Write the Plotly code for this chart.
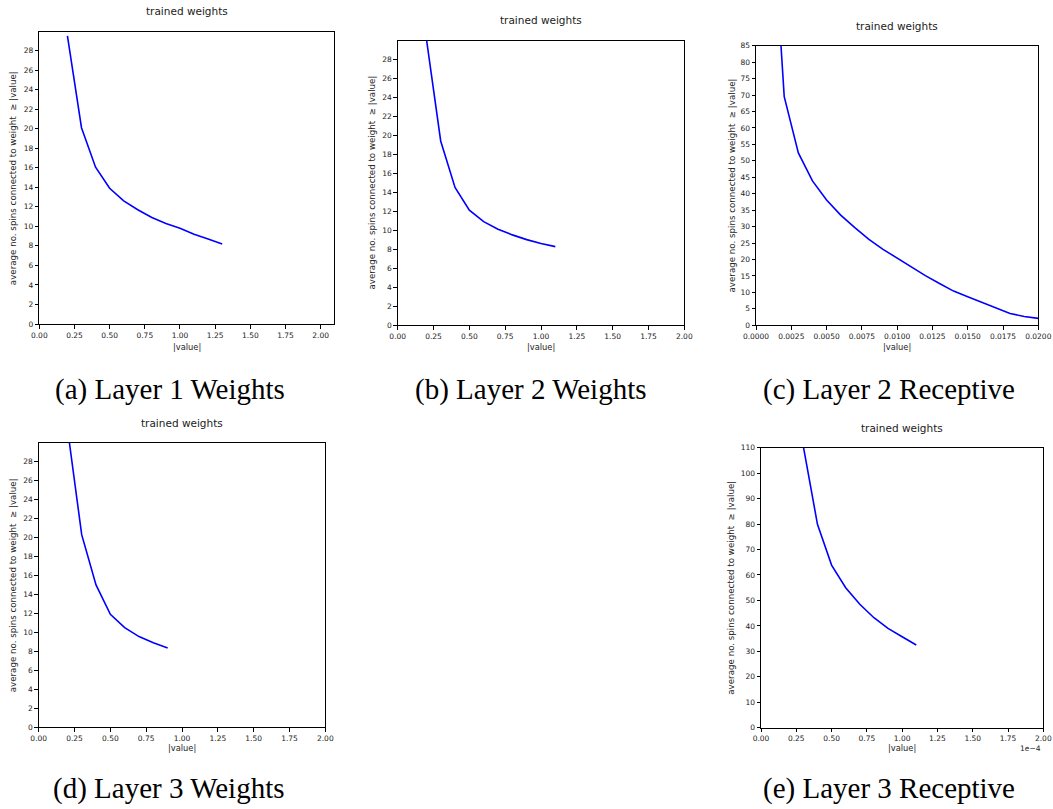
import plotly.graph_objects as go

W, H = 1053, 809

# ---- data ----
a_x = [0.2, 0.3, 0.4, 0.5, 0.6, 0.7, 0.8, 0.9, 1.0, 1.1, 1.2, 1.3]
a_y = [29.5, 20.1, 16.05, 13.9, 12.6, 11.7, 10.9, 10.3, 9.8, 9.2, 8.7, 8.2]

b_x = [0.2, 0.3, 0.4, 0.5, 0.6, 0.7, 0.8, 0.9, 1.0, 1.1]
b_y = [30.2, 19.4, 14.5, 12.1, 10.9, 10.1, 9.5, 9.0, 8.6, 8.26]

c_x = [0.001, 0.002, 0.003, 0.004, 0.005, 0.006, 0.007, 0.008, 0.009, 0.010,
       0.011, 0.012, 0.013, 0.014, 0.015, 0.016, 0.017, 0.018, 0.019, 0.020]
c_y = [137, 69.5, 52.4, 43.9, 38.1, 33.5, 29.7, 26.1, 23.1, 20.4,
       17.6, 15.1, 12.7, 10.4, 8.7, 7.0, 5.3, 3.6, 2.7, 2.1]

d_x = [0.2, 0.3, 0.4, 0.5, 0.6, 0.7, 0.8, 0.9]
d_y = [31.6, 20.3, 15.0, 11.9, 10.5, 9.56, 8.9, 8.36]

e_x = [0.2e-4, 0.3e-4, 0.4e-4, 0.5e-4, 0.6e-4, 0.7e-4, 0.8e-4, 0.9e-4, 1.0e-4, 1.1e-4]
e_y = [160, 110.5, 79.9, 63.9, 55.0, 48.5, 43.2, 39.0, 35.75, 32.5]

e_tickvals = [0, 0.25e-4, 0.5e-4, 0.75e-4, 1.0e-4, 1.25e-4, 1.5e-4, 1.75e-4, 2.0e-4]
e_ticktext = ["0.00", "0.25", "0.50", "0.75", "1.00", "1.25", "1.50", "1.75", "2.00"]

captions = ["(a) Layer 1 Weights", "(b) Layer 2 Weights", "(c) Layer 2 Receptive",
            "(d) Layer 3 Weights", "(e) Layer 3 Receptive"]

panel_title = "trained weights"
x_title = "|value|"
y_title = "average no. spins connected to weight \u00a0\u2265 |value|"

# ---- layout (pixel boxes) ----
boxes = [  # x0, x1, y0(top), y1(bottom)
    (39.3, 334.3, 31.7, 324.0),
    (397.7, 684.3, 40.7, 325.0),
    (756.0, 1038.3, 45.7, 325.3),
    (38.7, 325.3, 442.7, 727.3),
    (761.0, 1043.3, 447.7, 727.7),
]
xranges = [[0, 2.097], [0, 2.0], [0, 0.02], [0, 2.0], [0, 2.0e-4]]
yranges = [[0, 29.93], [0, 29.97], [0, 85], [0, 29.99], [0, 110]]
ydticks = [2, 2, 5, 2, 10]

data = [(a_x, a_y), (b_x, b_y), (c_x, c_y), (d_x, d_y), (e_x, e_y)]

fig = go.Figure()
tickfont = dict(family="DejaVu Sans", size=7.5, color="#222")

title_y = [11, 20.5, 26, 422.5, 428.3]
ytitle_x = [13.3, 371.7, 731, 13.3, 731]
xtitle_y = [346.7, 346.7, 346.7, 748, 748]
cap_pos = [(170, 389), (530, 389), (889, 389), (168, 788), (889, 788)]

annotations = []
for i, ((xs, ys), (x0, x1, y0, y1)) in enumerate(zip(data, boxes)):
    n = "" if i == 0 else str(i + 1)
    fig.add_trace(go.Scatter(x=xs, y=ys, mode="lines",
                             line=dict(color="#0000ff", width=1.6),
                             xaxis="x" + n, yaxis="y" + n, showlegend=False,
                             hoverinfo="skip"))
    xa = dict(domain=[x0 / W, x1 / W], range=xranges[i], anchor="y" + n,
              automargin=False, fixedrange=True,
              showline=True, linecolor="black", linewidth=1, mirror=True,
              showgrid=False, zeroline=False, ticks="outside", ticklen=3.5,
              tickwidth=0.8, tickcolor="black", tickfont=tickfont)
    if i == 2:
        xa.update(tickmode="linear", tick0=0, dtick=0.0025, tickformat=".4f")
    elif i == 4:
        xa.update(tickmode="array", tickvals=e_tickvals, ticktext=e_ticktext)
    else:
        xa.update(tickmode="linear", tick0=0, dtick=0.25, tickformat=".2f")
    ya = dict(domain=[1 - y1 / H, 1 - y0 / H], range=yranges[i], anchor="x" + n,
              automargin=False, fixedrange=True,
              showline=True, linecolor="black", linewidth=1, mirror=True,
              showgrid=False, zeroline=False, ticks="outside", ticklen=3.5,
              tickwidth=0.8, tickcolor="black", tickfont=tickfont,
              tickmode="linear", tick0=0, dtick=ydticks[i])
    fig.layout["xaxis" + n] = xa
    fig.layout["yaxis" + n] = ya

    cx = (x0 + x1) / 2
    annotations.append(dict(text=panel_title, x=cx / W, y=1 - title_y[i] / H,
                            xref="paper", yref="paper", showarrow=False,
                            xanchor="center", yanchor="middle",
                            font=dict(family="DejaVu Sans", size=10.5, color="#222")))
    annotations.append(dict(text=x_title, x=cx / W, y=1 - xtitle_y[i] / H,
                            xref="paper", yref="paper", showarrow=False,
                            xanchor="center", yanchor="middle",
                            font=dict(family="DejaVu Sans", size=8.3, color="#222")))
    annotations.append(dict(text=y_title, x=ytitle_x[i] / W, y=1 - ((y0 + y1) / 2) / H,
                            xref="paper", yref="paper", showarrow=False, textangle=-90,
                            xanchor="center", yanchor="middle",
                            font=dict(family="DejaVu Sans", size=8.7, color="#222")))
    annotations.append(dict(text=captions[i], x=cap_pos[i][0] / W, y=1 - cap_pos[i][1] / H,
                            xref="paper", yref="paper", showarrow=False,
                            xanchor="center", yanchor="middle",
                            font=dict(family="Liberation Serif", size=29, color="black")))

annotations.append(dict(text="1e\u22124", x=1043.3 / W, y=1 - 748 / H, xref="paper", yref="paper",
                        showarrow=False, xanchor="right", yanchor="middle",
                        font=dict(family="DejaVu Sans", size=7.5, color="#222")))

fig.update_layout(width=W, height=H, margin=dict(l=0, r=0, t=0, b=0, autoexpand=False),
                  paper_bgcolor="white", plot_bgcolor="white",
                  annotations=annotations, showlegend=False, hovermode=False)

fig.write_html("out.html", config={"displayModeBar": False},
               post_script="document.body.style.margin='0';document.body.style.overflow='hidden';")
